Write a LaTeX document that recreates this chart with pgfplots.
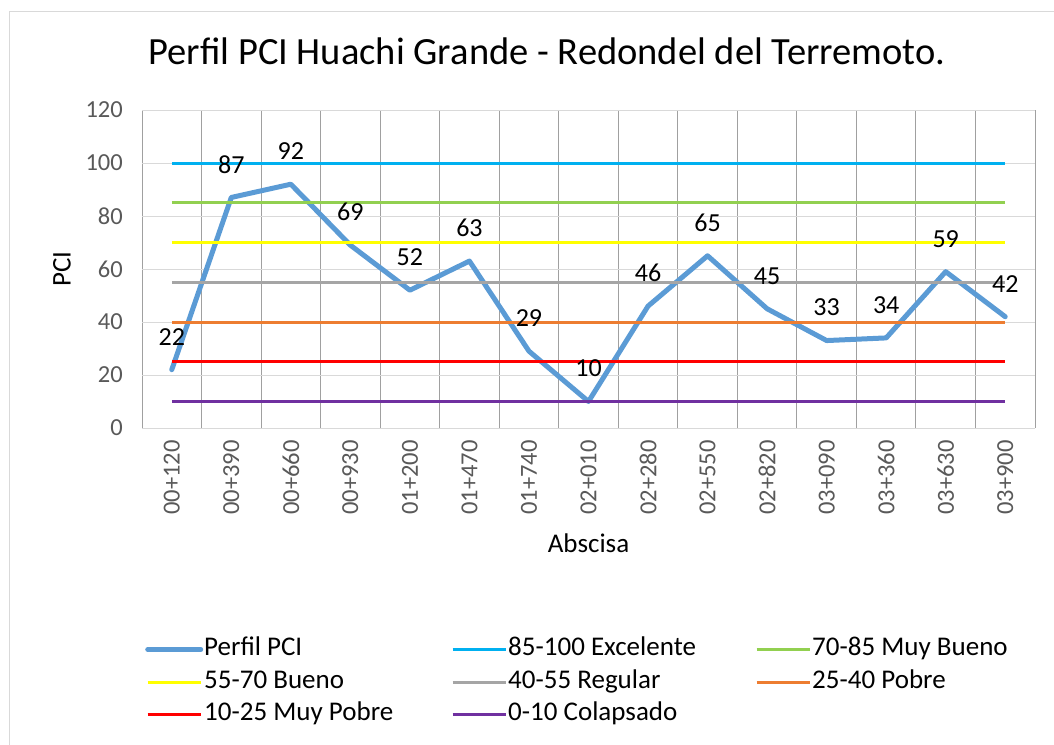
\documentclass[border=0pt]{standalone}
\usepackage{pgfplots}
\pgfplotsset{compat=1.18}
\usepackage{fontspec}
\setmainfont{Carlito}
\definecolor{pci}{HTML}{5B9BD5}
\definecolor{exc}{HTML}{00B0F0}
\definecolor{mbu}{HTML}{92D050}
\definecolor{bue}{HTML}{FFFF00}
\definecolor{reg}{HTML}{A5A5A5}
\definecolor{pob}{HTML}{ED7D31}
\definecolor{mpo}{HTML}{FF0000}
\definecolor{col}{HTML}{7030A0}
\definecolor{gridh}{HTML}{D9D9D9}
\definecolor{gridv}{HTML}{A0A0A0}
\definecolor{ticktxt}{HTML}{595959}
\pgfplotsset{/pgf/number format/assume math mode=true}
\begin{document}
\begin{tikzpicture}[x=1pt,y=1pt]
\useasboundingbox (0,0) rectangle (1054,-744);
\draw[color=gridh,line width=1pt] (9,-11) rectangle (1090,-780);
\begin{axis}[
  at={(142pt,-428pt)}, anchor=south west,
  width=893pt, height=318pt, scale only axis,
  xmin=-0.5, xmax=14.5, ymin=0, ymax=120,
  ytick={0,20,...,120},
  xtick={0,...,14},
  xticklabels={{00+120},{00+390},{00+660},{00+930},{01+200},{01+470},{01+740},{02+010},{02+280},{02+550},{02+820},{03+090},{03+360},{03+630},{03+900}},
  minor xtick={-0.5,0.5,...,14.5},
  xminorgrids=true, ymajorgrids=true, xmajorgrids=false,
  minor x grid style={color=gridv, line width=1pt},
  major y grid style={color=gridh, line width=1pt},
  axis line style={draw=none},
  major tick length=0pt, minor tick length=0pt,
  tick style={draw=none},
  xticklabel style={rotate=90, anchor=east, inner xsep=12pt, inner ysep=0pt, font=\fontsize{24.5}{28}\selectfont, text=ticktxt},
  yticklabel style={anchor=east, inner xsep=19pt, font=\fontsize{24.5}{28}\selectfont, text=ticktxt},
  ylabel={PCI},
  ylabel style={at={(axis description cs:-0.0896,0.5)}, anchor=center, rotate=0, font=\fontsize{27}{32}\selectfont},
  xlabel={Abscisa},
  xlabel style={at={(axis description cs:0.5,-0.362)}, anchor=center, font=\fontsize{27}{32}\selectfont},
  title={Perfil PCI Huachi Grande - Redondel del Terremoto.},
  title style={at={(axis description cs:0.4535,1.167)}, anchor=center, font=\fontsize{38.5}{44}\selectfont},
  clip=false,
  legend columns=3,
  legend cell align=left,
  legend style={at={(axis description cs:0.0034,-0.655)}, anchor=north west, draw=none, fill=none, inner sep=0pt, row sep=6.5pt, column sep=0pt,
    nodes={inner sep=1pt, text height=18pt, text depth=6pt, font=\fontsize{27}{32}\selectfont}},
  legend image code/.code={\draw[#1] (0pt,0pt) -- (53pt,0pt);},
]
\addplot[color=pci, line width=5pt, line cap=round, line join=round,
  nodes near coords,
  every node near coord/.style={anchor=center, yshift=33pt, font=\fontsize{26}{30}\selectfont, text=black}]
  coordinates {(0,22) (1,87) (2,92) (3,69) (4,52) (5,63) (6,29) (7,10) (8,46) (9,65) (10,45) (11,33) (12,34) (13,59) (14,42)};
\addlegendentry{\makebox[246pt][l]{Perfil PCI}}
\addplot[color=exc, line width=3pt] coordinates {(0,100) (14,100)};
\addlegendentry{\makebox[246pt][l]{85-100 Excelente}}
\addplot[color=mbu, line width=3pt] coordinates {(0,85) (14,85)};
\addlegendentry{70-85 Muy Bueno}
\addplot[color=bue, line width=3pt] coordinates {(0,70) (14,70)};
\addlegendentry{\makebox[246pt][l]{55-70 Bueno}}
\addplot[color=reg, line width=3pt] coordinates {(0,55) (14,55)};
\addlegendentry{\makebox[246pt][l]{40-55 Regular}}
\addplot[color=pob, line width=3pt] coordinates {(0,40) (14,40)};
\addlegendentry{25-40 Pobre}
\addplot[color=mpo, line width=3pt] coordinates {(0,25) (14,25)};
\addlegendentry{\makebox[246pt][l]{10-25 Muy Pobre}}
\addplot[color=col, line width=3pt] coordinates {(0,10) (14,10)};
\addlegendentry{\makebox[246pt][l]{0-10 Colapsado}}
\end{axis}
\end{tikzpicture}
\end{document}
